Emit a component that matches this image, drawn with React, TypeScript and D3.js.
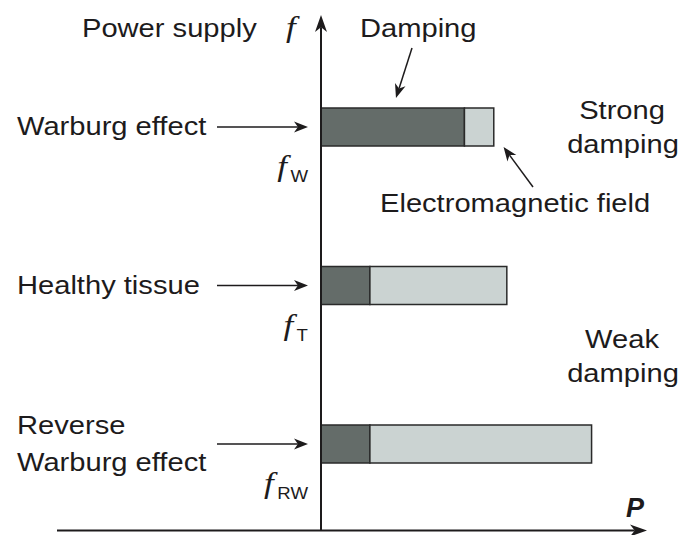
import React from 'react';
import * as d3 from 'd3';

// rows top to bottom
const categories = ['Warburg effect', 'Healthy tissue', 'Reverse Warburg effect'];
const labelLines = [['Warburg effect'], ['Healthy tissue'], ['Reverse', 'Warburg effect']];
const freqSubscripts = ['W', 'T', 'RW'];
// power split of each bar: damping part (dark) and electromagnetic field part (light)
const dampingPower = [4.4, 1.5, 1.5];
const fieldPower = [0.9, 4.2, 6.8];

const W = 679;
const H = 535;
const SX = 1.165; // the original lettering is a little wide
const INK = '#1d1b1c';
const DARK = '#646c69';
const LIGHT = '#cbd3d2';
const SANS = '"Liberation Sans", Arial, Helvetica, sans-serif';
const SERIF = '"Liberation Serif", "Times New Roman", serif';

const x = d3.scaleLinear().domain([0, 10]).range([321, 647]);
const y = d3.scalePoint().domain(categories).range([127, 444]);
const barH = 38;
const axisY = 530.5;

// line with a notched, filled arrow head at (x2,y2)
function Arrow({ x1, y1, x2, y2, len = 14, half = 5.5, sw = 1.5 }) {
  const a = Math.atan2(y2 - y1, x2 - x1);
  const ux = Math.cos(a), uy = Math.sin(a);
  const px = -uy, py = ux;
  const bx = x2 - ux * len, by = y2 - uy * len;
  const nx = x2 - ux * len * 0.72, ny = y2 - uy * len * 0.72;
  const head = d3.path();
  head.moveTo(x2, y2);
  head.lineTo(bx + px * half, by + py * half);
  head.lineTo(nx, ny);
  head.lineTo(bx - px * half, by - py * half);
  head.closePath();
  return (
    <g>
      <line x1={x1} y1={y1} x2={nx} y2={ny} stroke={INK} strokeWidth={sw} />
      <path d={head.toString()} fill={INK} />
    </g>
  );
}

function Txt({ x, y, anchor = 'start', size = 25, children }) {
  return (
    <text
      transform={`translate(${x},${y}) scale(${SX},1)`}
      textAnchor={anchor}
      fontFamily={SANS}
      fontSize={size}
      fill={INK}
    >
      {children}
    </text>
  );
}

export default function App() {
  const x0 = x(0);
  const c0 = y(categories[0]);

  return (
    <svg width={W} height={H} style={{ position: 'absolute', left: 0, top: 0, background: '#fff' }}>
      {/* bars */}
      {categories.map((c, i) => {
        const cy = y(c);
        const xd = x(dampingPower[i]);
        const xe = x(dampingPower[i] + fieldPower[i]);
        return (
          <g key={c}>
            <rect x={x0} y={cy - barH / 2} width={xd - x0} height={barH} fill={DARK} stroke="#2a2a2a" strokeWidth={1.5} />
            <rect x={xd} y={cy - barH / 2} width={xe - xd} height={barH} fill={LIGHT} stroke="#2a2a2a" strokeWidth={1.5} />
          </g>
        );
      })}

      {/* axes */}
      <Arrow x1={57} y1={axisY} x2={647} y2={axisY} len={17} half={6} sw={2} />
      <Arrow x1={x0} y1={axisY} x2={x0} y2={15} len={17} half={6} sw={2} />
      <text x={626} y={517} fontFamily={SANS} fontSize={27} fontWeight="bold" fontStyle="italic" fill={INK}>P</text>
      <text transform={`translate(286,37) scale(${SX},1)`} fontFamily={SERIF} fontSize={30} fontStyle="italic" fill={INK}>f</text>

      {/* row labels, arrows and frequency marks */}
      {categories.map((c, i) => {
        const cy = y(c);
        const lines = labelLines[i];
        return (
          <g key={'lab' + i}>
            {lines.map((t, j) => (
              <Txt key={t} x={17} y={cy + 8 + (j - (lines.length - 1) / 2) * 37}>{t}</Txt>
            ))}
            <Arrow x1={217} y1={cy} x2={308} y2={cy} />
            <text
              transform={`translate(308,${cy + barH / 2 + 30}) scale(${SX},1)`}
              textAnchor="end"
              fill={INK}
            >
              <tspan fontFamily={SERIF} fontSize={30} fontStyle="italic">f</tspan>
              <tspan fontFamily={SANS} fontSize={16} dx={3} dy={6}>{freqSubscripts[i]}</tspan>
            </text>
          </g>
        );
      })}

      {/* annotations */}
      <Txt x={82} y={37}>Power supply</Txt>
      <Txt x={360} y={37}>Damping</Txt>
      <Arrow x1={412} y1={48} x2={x(2.3)} y2={c0 - barH / 2 - 10} />
      <Txt x={622} y={119} anchor="middle">Strong</Txt>
      <Txt x={623} y={153} anchor="middle">damping</Txt>
      <Arrow x1={533} y1={187} x2={x(5.6)} y2={c0 + barH / 2 + 1} />
      <Txt x={380} y={212}>Electromagnetic field</Txt>
      <Txt x={622} y={348} anchor="middle">Weak</Txt>
      <Txt x={623} y={382} anchor="middle">damping</Txt>
    </svg>
  );
}
